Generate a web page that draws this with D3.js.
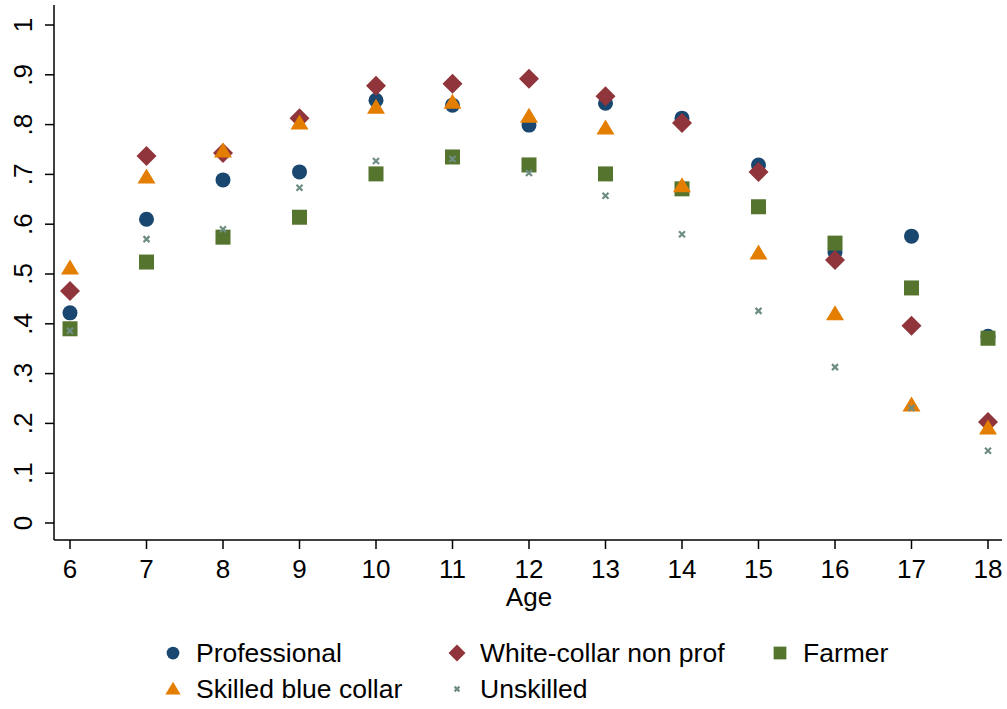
<!DOCTYPE html>
<html>
<head>
<meta charset="utf-8">
<script src="https://cdn.jsdelivr.net/npm/d3@7"></script>
<style>
body { margin:0; background:#fff; }
text { font-family: "Liberation Sans", Arial, sans-serif; fill:#000; }
</style>
</head>
<body>
<svg width="1007" height="709"></svg>
<script>
var ages = [6, 7, 8, 9, 10, 11, 12, 13, 14, 15, 16, 17, 18];
var yTicks = [0, .1, .2, .3, .4, .5, .6, .7, .8, .9, 1];
var yTickLabels = ["0", ".1", ".2", ".3", ".4", ".5", ".6", ".7", ".8", ".9", "1"];

var professional = [.422, .610, .689, .705, .849, .839, .799, .843, .813, .719, .544, .576, .375];
var whiteCollar  = [.466, .737, .743, .813, .878, .882, .892, .857, .803, .705, .528, .396, .203];
var farmer       = [.390, .524, .574, .614, .701, .735, .719, .701, .671, .635, .562, .472, .371];
var skilled      = [.512, .695, .747, .803, .835, .845, .817, .793, .677, .542, .420, .237, .191];
var unskilled    = [.386, .570, .590, .673, .727, .731, .703, .657, .580, .426, .313, .231, .145];

var series = [
  {name: "Professional", values: professional, shape: "circle", color: "#1a476f"},
  {name: "White-collar non prof", values: whiteCollar, shape: "diamond", color: "#90353b"},
  {name: "Farmer", values: farmer, shape: "square", color: "#55752f"},
  {name: "Skilled blue collar", values: skilled, shape: "triangle", color: "#e37e00"},
  {name: "Unskilled", values: unskilled, shape: "x", color: "#6e8e84"}
];

svg = d3.select("svg");

x = d3.scaleLinear().domain([6, 18]).range([70, 988]);
y = d3.scaleLinear().domain([0, 1]).range([523, 25]);

var axisLeft = 54, axisBottom = 540;

// axis lines
svg.append("line")
  .attr("x1", axisLeft).attr("x2", axisLeft)
  .attr("y1", 5).attr("y2", axisBottom)
  .attr("stroke", "#000").attr("stroke-width", 1.5);
svg.append("line")
  .attr("x1", axisLeft).attr("x2", 1002)
  .attr("y1", axisBottom).attr("y2", axisBottom)
  .attr("stroke", "#000").attr("stroke-width", 1.5);

// y ticks
yTicks.forEach(function(t, i) {
  svg.append("line")
    .attr("x1", axisLeft - 9).attr("x2", axisLeft)
    .attr("y1", y(t)).attr("y2", y(t))
    .attr("stroke", "#000").attr("stroke-width", 1.5);
  svg.append("text")
    .attr("transform", "translate(" + [32, y(t)] + ") rotate(-90)")
    .attr("text-anchor", "middle")
    .style("font-size", "26px")
    .text(yTickLabels[i]);
});

// x ticks
ages.forEach(function(a) {
  svg.append("line")
    .attr("x1", x(a)).attr("x2", x(a))
    .attr("y1", axisBottom).attr("y2", axisBottom + 9)
    .attr("stroke", "#000").attr("stroke-width", 1.5);
  svg.append("text")
    .attr("x", x(a)).attr("y", 578)
    .attr("text-anchor", "middle")
    .style("font-size", "26px")
    .text(a);
});

svg.append("text")
  .attr("x", x(12)).attr("y", 606)
  .attr("text-anchor", "middle")
  .style("font-size", "26px")
  .text("Age");

function drawMarker(g, shape, color, cx, cy, k) {
  k = k || 1;
  if (shape == "circle") {
    g.append("circle").attr("cx", cx).attr("cy", cy).attr("r", 7.5 * k).attr("fill", color);
  } else if (shape == "diamond") {
    var s = 10 * k;
    g.append("path")
      .attr("d", "M" + cx + "," + (cy - s) + "L" + (cx + s) + "," + cy + "L" + cx + "," + (cy + s) + "L" + (cx - s) + "," + cy + "Z")
      .attr("fill", color);
  } else if (shape == "square") {
    var h = 7.5 * k;
    g.append("rect").attr("x", cx - h).attr("y", cy - h).attr("width", 2 * h).attr("height", 2 * h).attr("fill", color);
  } else if (shape == "triangle") {
    var w = 9 * k, t = 8.5 * k, b = 6.5 * k;
    g.append("path")
      .attr("d", "M" + cx + "," + (cy - t) + "L" + (cx + w) + "," + (cy + b) + "L" + (cx - w) + "," + (cy + b) + "Z")
      .attr("fill", color);
  } else if (shape == "x") {
    var e = 3 * k;
    g.append("path")
      .attr("d", "M" + (cx - e) + "," + (cy - e) + "L" + (cx + e) + "," + (cy + e) + "M" + (cx + e) + "," + (cy - e) + "L" + (cx - e) + "," + (cy + e))
      .attr("stroke", color).attr("stroke-width", 2.2).attr("fill", "none");
  }
}

var plot = svg.append("g").attr("class", "plot");
series.forEach(function(s) {
  var g = plot.append("g").attr("class", "series");
  s.values.forEach(function(v, i) {
    drawMarker(g, s.shape, s.color, x(ages[i]), y(v));
  });
});

// legend
var legendPos = [[173, 653], [457, 653], [780, 653], [173, 689], [457, 689]];
var legend = svg.append("g").attr("class", "legend");
series.forEach(function(s, i) {
  var p = legendPos[i];
  drawMarker(legend, s.shape, s.color, p[0], p[1], s.shape == "x" ? 0.8 : 0.85);
  legend.append("text")
    .attr("x", p[0] + 23).attr("y", p[1] + 9)
    .style("font-size", "26.5px")
    .text(s.name);
});
</script>
</body>
</html>
